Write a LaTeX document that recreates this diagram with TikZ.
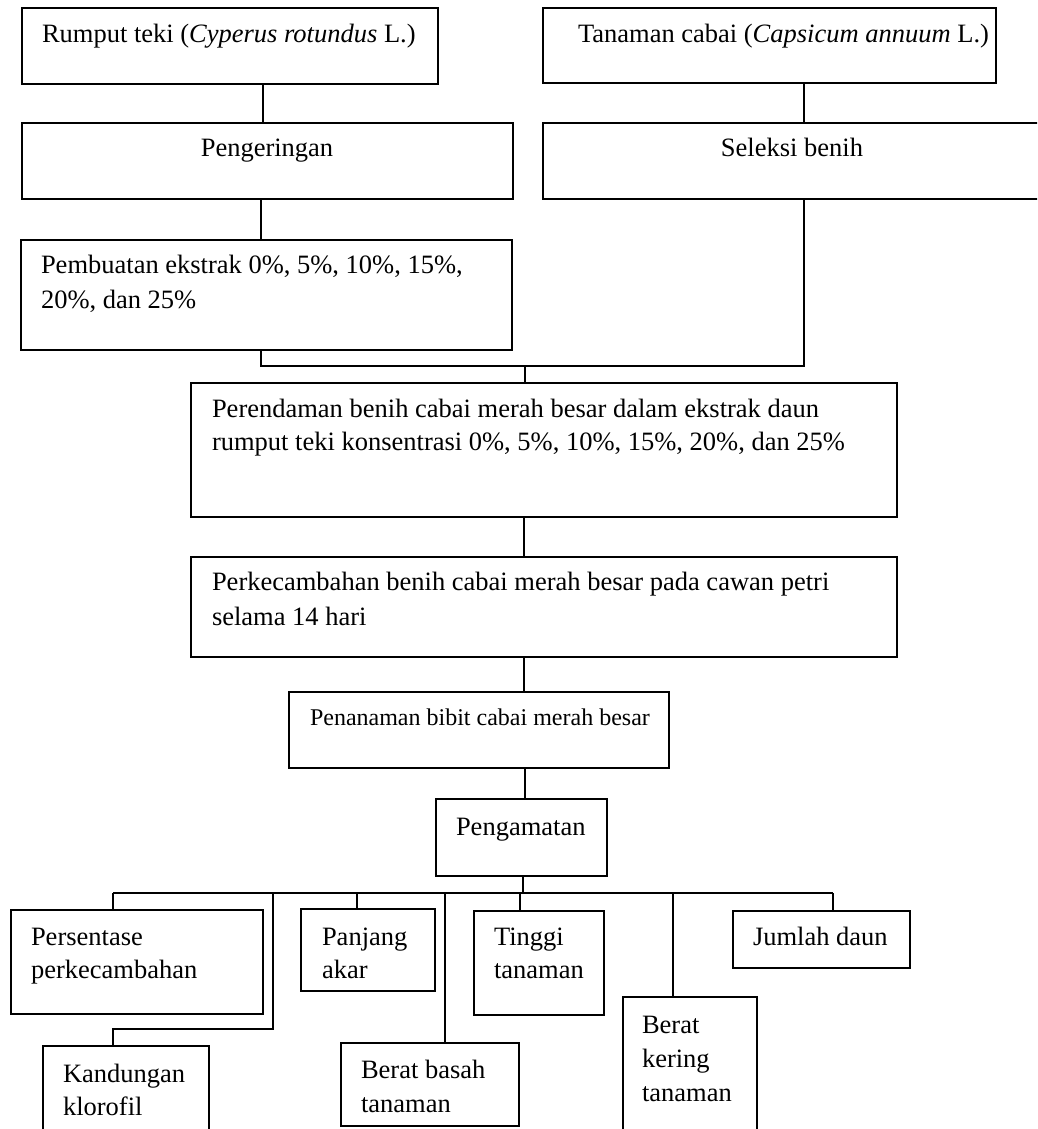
\documentclass[tikz,border=0pt]{standalone}
\usepackage{fontspec}
\setmainfont{Liberation Serif}
\newcommand{\fsmain}{\fontsize{26.5pt}{33.5pt}\selectfont}
\newcommand{\fssmall}{\fontsize{24pt}{30pt}\selectfont}
\newcommand{\mlines}[2]{\vtop{\baselineskip=#1pt #2}}
\begin{document}
\begin{tikzpicture}[x=1pt,y=-1pt,
  box/.style={draw, line width=1.4pt, rectangle, inner sep=0pt, outer sep=0pt},
  txt/.style={anchor=base west, inner sep=0pt, outer sep=0pt, font=\fsmain},
  ctxt/.style={anchor=base, inner sep=0pt, outer sep=0pt, font=\fsmain},
  link/.style={line width=1.4pt}]
\useasboundingbox (0,0) rectangle (1037,1129);
\clip (0,0) rectangle (1037,1129);
\fill[white] (0,0) rectangle (1037,1129);

% boxes
\node[box, minimum width=416pt, minimum height=76pt]  (b1) at (230,46) {};
\node[box, minimum width=491pt, minimum height=76pt]  (b2) at (267.5,161) {};
\node[box, minimum width=491pt, minimum height=110pt] (b3) at (266.5,295) {};
\node[box, minimum width=453pt, minimum height=75pt]  (t1) at (769.5,45.5) {};
\node[box, minimum width=498pt, minimum height=76pt]  (t2) at (792,161) {};
\node[box, minimum width=706pt, minimum height=134pt] (b4) at (544,450) {};
\node[box, minimum width=706pt, minimum height=100pt] (b5) at (544,607) {};
\node[box, minimum width=380pt, minimum height=76pt]  (b6) at (479,730) {};
\node[box, minimum width=171pt, minimum height=77pt]  (b7) at (521.5,837.5) {};
\node[box, minimum width=252pt, minimum height=104pt] (pers) at (137,962) {};
\node[box, minimum width=134pt, minimum height=82pt]  (panj) at (368,950) {};
\node[box, minimum width=130pt, minimum height=104pt] (ting) at (539,963) {};
\node[box, minimum width=177pt, minimum height=57pt]  (juml) at (821.5,939.5) {};
\node[box, minimum width=166pt, minimum height=110pt] (kand) at (126,1101) {};
\node[box, minimum width=178pt, minimum height=83pt]  (bbas) at (430,1084.5) {};
\node[box, minimum width=134pt, minimum height=160pt] (bker) at (690,1077) {};

% junction coordinates
\coordinate (xa) at (263,0);
\coordinate (jL) at (261,366);
\coordinate (jR) at (804,366);
\coordinate (jM) at (525,366);
\coordinate (xc) at (524,0);
\coordinate (d0) at (523,893);
\coordinate (d1) at (113,893);
\coordinate (d2) at (273,893);
\coordinate (d3) at (357,893);
\coordinate (d4) at (445,893);
\coordinate (d5) at (520,893);
\coordinate (d6) at (673,893);
\coordinate (d7) at (833,893);
\coordinate (kb) at (113,1029);

% connectors
\draw[link] (b1.south -| xa) -- (b2.north -| xa);
\draw[link] (b2.south -| jL) -- (b3.north -| jL);
\draw[link] (b3.south -| jL) -- (jL) -- (jR) -- (t2.south -| jR);
\draw[link] (t1.south -| jR) -- (t2.north -| jR);
\draw[link] (jM) -- (b4.north -| jM);
\draw[link] (b4.south -| xc) -- (b5.north -| xc);
\draw[link] (b5.south -| xc) -- (b6.north -| xc);
\draw[link] (b6.south -| jM) -- (b7.north -| jM);
\draw[link] (b7.south -| d0) -- (d0);
\draw[link] (d1) -- (d7);
\draw[link] (d1) -- (pers.north -| d1);
\draw[link] (d2) |- (kb) -- (kand.north -| kb);
\draw[link] (d3) -- (panj.north -| d3);
\draw[link] (d4) -- (bbas.north -| d4);
\draw[link] (d5) -- (ting.north -| d5);
\draw[link] (d6) -- (bker.north -| d6);
\draw[link] (d7) -- (juml.north -| d7);

% texts
\node[txt] (tx1) at (42,43) {Rumput teki (\textit{Cyperus rotundus} L.)};
\node[txt] (tx2) at (578,43) {Tanaman cabai (\textit{Capsicum annuum} L.)};
\node[ctxt] (tx3) at (267,157) {Pengeringan};
\node[ctxt] (tx4) at (792,157) {Seleksi benih};
\node[txt] (tx5) at (41,273) {\mlines{35}{\hbox{Pembuatan ekstrak 0\%, 5\%, 10\%, 15\%,}\hbox{20\%, dan 25\%}}};
\node[txt] (tx6) at (212,417) {\mlines{33}{\hbox{Perendaman benih cabai merah besar dalam ekstrak daun}\hbox{rumput teki konsentrasi 0\%, 5\%, 10\%, 15\%, 20\%, dan 25\%}}};
\node[txt] (tx7) at (212,590) {\mlines{35}{\hbox{Perkecambahan benih cabai merah besar pada cawan petri}\hbox{selama 14 hari}}};
\node[txt, font=\fssmall] (tx8) at (310,725) {Penanaman bibit cabai merah besar};
\node[txt] (tx9) at (456,835) {Pengamatan};
\node[txt] (tx10) at (31,945) {\mlines{33.5}{\hbox{Persentase}\hbox{perkecambahan}}};
\node[txt] (tx11) at (322,945) {\mlines{33.5}{\hbox{Panjang}\hbox{akar}}};
\node[txt] (tx12) at (494,945) {\mlines{33.5}{\hbox{Tinggi}\hbox{tanaman}}};
\node[txt] (tx13) at (753,945) {Jumlah daun};
\node[txt] (tx14) at (63,1082) {\mlines{33.5}{\hbox{Kandungan}\hbox{klorofil}}};
\node[txt] (tx15) at (361,1078) {\mlines{34}{\hbox{Berat basah}\hbox{tanaman}}};
\node[txt] (tx16) at (642,1033) {\mlines{34}{\hbox{Berat}\hbox{kering}\hbox{tanaman}}};
\end{tikzpicture}
\end{document}
